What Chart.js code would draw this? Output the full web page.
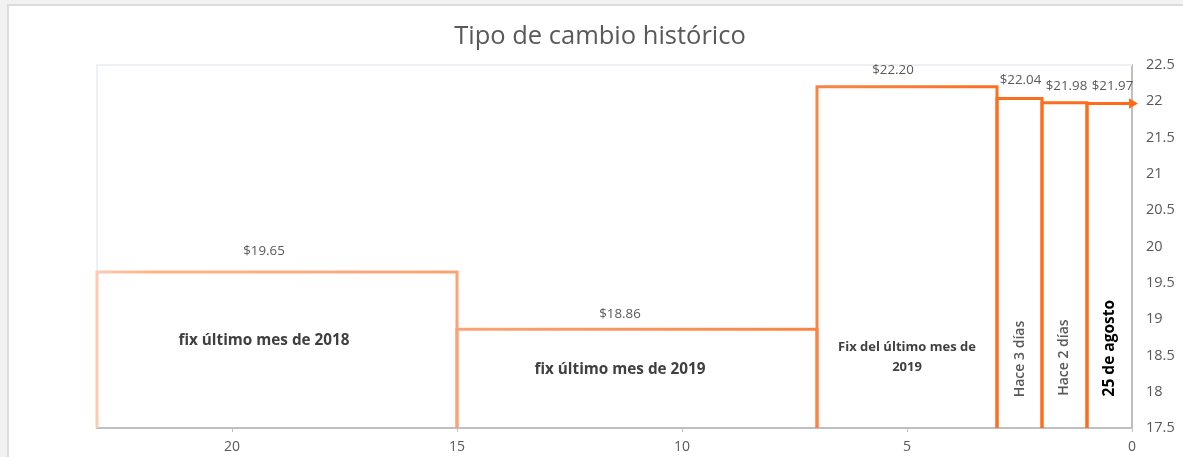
<!DOCTYPE html>
<html>
<head>
<meta charset="utf-8">
<script src="https://cdn.jsdelivr.net/npm/chart.js@4"></script>
<style>
  body { margin: 0; background: #f2f2f2; }
  #frame { position: absolute; left: 7px; top: 4px; width: 1176px; height: 453px; background: #fff; border-left: 2px solid #dcdcdc; border-top: 2px solid #dcdcdc; }
  #chart { position: absolute; left: 0; top: 0; }
</style>
</head>
<body>
<div id="frame"></div>
<canvas id="chart" width="1183" height="457"></canvas>
<script>
// datos del gráfico
const chartTitle = 'Tipo de cambio histórico';
const periods = ['fix último mes de 2018', 'fix último mes de 2019', 'Fix del último mes de 2019', 'Hace 3 días', 'Hace 2 días', '25 de agosto'];
const rates = [19.65, 18.86, 22.20, 22.04, 21.98, 21.97];
const startX = [23, 15, 7, 3, 2, 1];
const endX = [15, 7, 3, 2, 1, 0];
const yTicks = [17.5, 18, 18.5, 19, 19.5, 20, 20.5, 21, 21.5, 22, 22.5];
const xTicks = [0, 5, 10, 15, 20];

// estilo de las etiquetas de cada tramo
const valueLabelDx = [-13, -17, -14, 1, 2, 3];
const valueLabelDy = [-21, -15, -17, -18, -17, -17];
const periodLabelStyle = [
    { y: 18.7, dx: -13, lines: ['fix último mes de 2018'], font: 'bold 15.3px "Open Sans"', color: '#404040' },
    { y: 18.31, dx: -17, lines: ['fix último mes de 2019'], font: 'bold 15.3px "Open Sans"', color: '#404040' },
    { y: 18.47, dx: 0, lines: ['Fix del último mes de', '2019'], font: 'bold 13px "Open Sans"', color: '#404040' },
    { y: 18.45, dx: 1, rotate: true, font: '600 14px "Open Sans"', color: '#595959' },
    { y: 18.47, dx: 0, rotate: true, font: '600 14px "Open Sans"', color: '#595959' },
    { y: 18.6, dx: 0, rotate: true, font: 'bold 15.5px "Open Sans"', color: '#000' }
];

const yMin = yTicks[0];
const yMax = yTicks[yTicks.length - 1];

function lineGradient(context) {
    const chart = context.chart;
    const area = chart.chartArea;
    if (!area) return '#f98544';
    const g = chart.ctx.createLinearGradient(area.left, 0, area.right, 0);
    g.addColorStop(0, '#fccbb0');
    g.addColorStop(0.05, '#fbb58d');
    g.addColorStop(0.35, '#f9a475');
    g.addColorStop(0.7, '#f98443');
    g.addColorStop(0.87, '#fb6f22');
    g.addColorStop(1, '#ff6a18');
    return g;
}

const datasets = rates.map((r, i) => {
    const pts = [{ x: startX[i], y: yMin }, { x: startX[i], y: r }, { x: endX[i], y: r }];
    const last = i === rates.length - 1;
    if (!last) pts.push({ x: endX[i], y: yMin });
    return {
        label: periods[i],
        data: pts,
        showLine: true,
        borderColor: lineGradient,
        backgroundColor: '#ff6a18',
        borderWidth: 3,
        borderJoinStyle: 'miter',
        pointStyle: 'triangle',
        rotation: 90,
        pointRadius: ctx => (last && ctx.dataIndex === pts.length - 1) ? 6 : 0,
        pointBorderWidth: 0,
        clip: false
    };
});

const decorations = {
    id: 'decorations',
    beforeDatasetsDraw(chart) {
        const { ctx, chartArea: a } = chart;
        ctx.save();
        ctx.strokeStyle = '#edf1f6';
        ctx.lineWidth = 2;
        ctx.beginPath();
        ctx.moveTo(a.left, a.bottom);
        ctx.lineTo(a.left, a.top);
        ctx.lineTo(a.right, a.top);
        ctx.stroke();
        ctx.restore();
    },
    afterDraw(chart) {
        const { ctx } = chart;
        const xs = chart.scales.x, ys = chart.scales.y;
        ctx.save();
        // título
        ctx.fillStyle = '#595959';
        ctx.font = '25.5px "Open Sans"';
        ctx.textAlign = 'center';
        ctx.textBaseline = 'middle';
        ctx.fillText(chartTitle, 600, 37);

        rates.forEach((r, i) => {
            const cx = xs.getPixelForValue((startX[i] + endX[i]) / 2);
            // valor
            ctx.font = '13.3px "Open Sans"';
            ctx.fillStyle = '#595959';
            ctx.textAlign = 'center';
            ctx.fillText('$' + r.toFixed(2), cx + valueLabelDx[i], ys.getPixelForValue(r) + valueLabelDy[i]);

            // nombre del tramo
            const st = periodLabelStyle[i];
            ctx.font = st.font;
            ctx.fillStyle = st.color;
            const cy = ys.getPixelForValue(st.y);
            if (st.rotate) {
                ctx.save();
                ctx.translate(cx + st.dx, cy);
                ctx.rotate(-Math.PI / 2);
                ctx.fillText(periods[i], 0, 0);
                ctx.restore();
            } else {
                st.lines.forEach((t, k) => {
                    ctx.fillText(t, cx + st.dx, cy + k * 20 - (st.lines.length - 1) * 10);
                });
            }
        });
        ctx.restore();
    }
};

new Chart(document.getElementById('chart'), {
    type: 'scatter',
    data: { datasets: datasets },
    options: {
        responsive: false,
        animation: false,
        devicePixelRatio: 1,
        layout: { padding: { left: 97, top: 65, right: 0, bottom: 0 } },
        plugins: {
            legend: { display: false },
            tooltip: { enabled: false }
        },
        scales: {
            x: {
                type: 'linear',
                reverse: true,
                min: 0,
                max: 23,
                afterBuildTicks: s => { s.ticks = xTicks.map(v => ({ value: v })); },
                ticks: { color: '#595959', font: { family: 'Open Sans', size: 14 }, padding: 7, includeBounds: false },
                grid: { drawOnChartArea: false, drawTicks: true, tickLength: 4, color: '#bfbfbf', lineWidth: 1 },
                border: { color: '#bfbfbf', width: 2 },
                afterFit: s => { s.height = 29; }
            },
            y: {
                position: 'right',
                min: yMin,
                max: yMax,
                afterBuildTicks: s => { s.ticks = yTicks.map(v => ({ value: v })); },
                ticks: { color: '#595959', font: { family: 'Open Sans', size: 14.5 }, padding: 14, callback: v => String(v) },
                grid: { drawOnChartArea: false, drawTicks: false },
                border: { color: '#bfbfbf', width: 2 },
                afterFit: s => { s.width = 51; }
            }
        }
    },
    plugins: [decorations]
});
</script>
</body>
</html>
